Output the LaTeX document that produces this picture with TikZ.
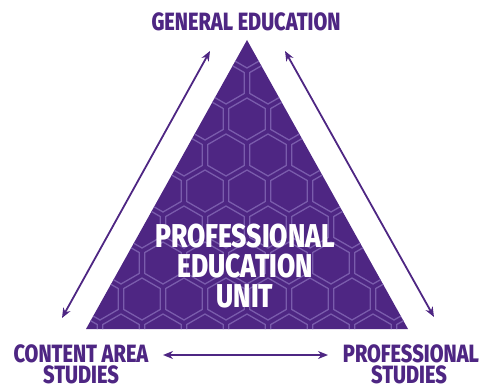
\documentclass[tikz,border=0pt]{standalone}
\usepackage{fontspec}
\newfontfamily\condfont[FakeStretch=0.8, BoldFont={Fira Sans ExtraBold}]{Fira Sans}
\usetikzlibrary{arrows.meta}
\definecolor{uPurple}{RGB}{78,38,131}
\definecolor{hexLine}{RGB}{122,92,172}
\tikzset{
  lbl/.style={text=uPurple, font=\condfont\bfseries\fontsize{25}{23}\selectfont, inner sep=0pt, text height=17pt, text depth=0pt},
  ctr/.style={text=white, font=\condfont\bfseries\fontsize{33}{30}\selectfont, inner sep=0pt, text height=23pt, text depth=0pt},
  rel/.style={draw=uPurple, line width=1.8pt, {Stealth[length=10pt,width=8pt]}-{Stealth[length=10pt,width=8pt]}},
  hex/.style={draw=hexLine, line width=1.3pt}
}
\begin{document}
\begin{tikzpicture}[x=1pt,y=-1pt]
\useasboundingbox (0,0) rectangle (481,385);
% triangle
\coordinate (tA) at (247,40);
\coordinate (tL) at (86,329);
\coordinate (tR) at (408,329);
\fill[uPurple] (tA) -- (tL) -- (tR) -- cycle;
\begin{scope}
\clip (tA) -- (tL) -- (tR) -- cycle;
\foreach \k in {0,...,8}{
  \pgfmathsetmacro{\yy}{47+36*\k}
  \pgfmathsetmacro{\xo}{mod(\k,2)==0 ? 247 : 226}
  \foreach \m in {-5,...,5}{
    \pgfmathsetmacro{\xx}{\xo+42*\m}
    \draw[hex] (\xx,\yy) +(0,-21) -- +(18.2,-10.5) -- +(18.2,10.5) -- +(0,21) -- +(-18.2,10.5) -- +(-18.2,-10.5) -- cycle;
  }
}
\end{scope}
% labels
\node[lbl, anchor=base] (gen) at (246,31) {GENERAL EDUCATION};
\node[lbl, anchor=base] (cas1) at (81,362) {CONTENT AREA};
\node[lbl, anchor=base] (cas2) at (81,383) {STUDIES};
\node[lbl, anchor=base] (ps1) at (411,362) {PROFESSIONAL};
\node[lbl, anchor=base] (ps2) at (409,383) {STUDIES};
\node[ctr, anchor=base] (c1) at (245,247) {PROFESSIONAL};
\node[ctr, anchor=base] (c2) at (245,277) {EDUCATION};
\node[ctr, anchor=base] (c3) at (245,307) {UNIT};
% arrows
\coordinate (la) at (62,318);
\coordinate (lb) at (210,51);
\coordinate (ra) at (285,51);
\coordinate (rb) at (434,317);
\coordinate (ba) at (163,355);
\coordinate (bb) at (328,355);
\draw[rel] (la) -- (lb);
\draw[rel] (ra) -- (rb);
\draw[rel] (ba) -- (bb);
\end{tikzpicture}
\end{document}
